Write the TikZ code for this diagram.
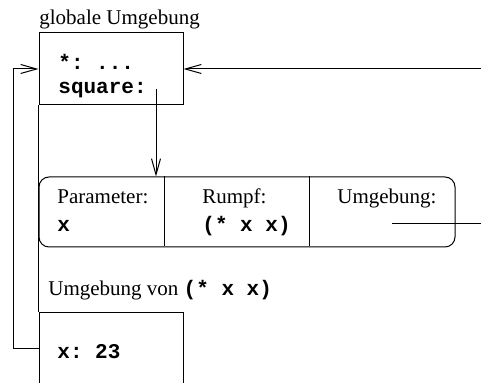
\documentclass[tikz,border=0pt]{standalone}
\usepackage{fontspec}
\setmainfont{Liberation Serif}
\setmonofont{Liberation Mono}
\usetikzlibrary{arrows.meta}
\tikzstyle{plain} = [line width=0.5pt]
\tikzstyle{connector} = [line width=0.5pt, -{Straight Barb[length=8pt,width=4.5pt]}]
\tikzstyle{frame} = [draw, line width=0.5pt, rectangle, inner sep=0pt]
\tikzstyle{lbl} = [inner sep=0pt, anchor=base west, font=\fontsize{10.5}{12}\selectfont]
\tikzstyle{code} = [lbl, font=\fontsize{10.5}{12}\selectfont\ttfamily\bfseries]

\begin{document}
\begin{tikzpicture}[x=0.5pt, y=-0.5pt]
                \useasboundingbox (0,0) rectangle (481,383);
                \clip (0,0) rectangle (481,383);

                % the three boxes
                \node (glob) [frame, minimum width=72pt, minimum height=36pt] at (111,69) {};
                \node (clo) [frame, rounded corners=5pt, minimum width=208pt, minimum height=35pt] at (247,212) {};
                \node (env) [frame, minimum width=72pt, minimum height=50pt] at (111,363) {};
                \draw [plain] (clo.north west) ++(126,0) -- ++(0,70);
                \draw [plain] (clo.north west) ++(271,0) -- ++(0,70);

                % texts
                \node (gtitle) [lbl] at (39,25) {globale Umgebung};
                \node (star) [code] at (58,70) {*: ...};
                \node (sq) [code] at (58,94) {square:};
                \node (par) [lbl] at (57,204) {Parameter:};
                \node (parx) [code] at (57,232) {x};
                \node (rumpf) [lbl] at (202,204) {Rumpf:};
                \node (body) [code] at (202,232) {(* x x)};
                \node (umg) [lbl] at (337,204) {Umgebung:};
                \node (etitle) [lbl] at (48,296) {Umgebung von \texttt{\bfseries (* x x)}};
                \node (xval) [code] at (57,359) {x: 23};

                % connectors
                \coordinate (east) at (481,69);
                \coordinate (sqp) at (156,89);
                \coordinate (envp) at (392,224);
                \coordinate (out) at (481,224);
                \coordinate (ret) at (39,349);

                \draw [plain] (glob.south west) -- (env.north west);
                \draw [connector] (east) -- (glob.east);
                \draw [connector] (sqp) -- (sqp |- clo.north);
                \draw [plain] (envp) -- (out);
                \draw [connector] (ret) -- ++(-26,0) |- (glob.west);
            \end{tikzpicture}
\end{document}
